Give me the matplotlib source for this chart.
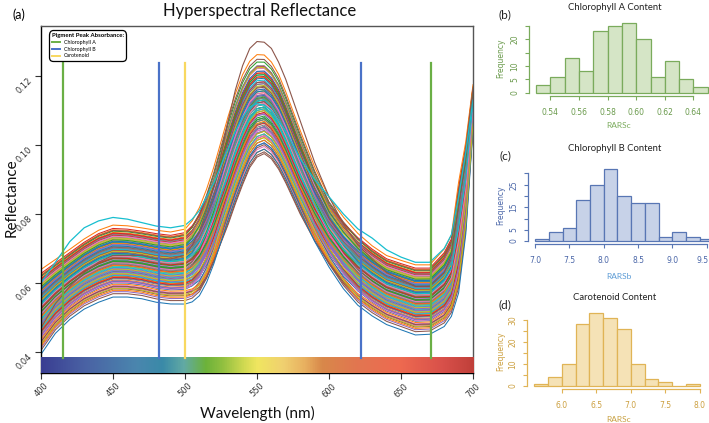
import numpy as np
import matplotlib
matplotlib.use("Agg")
import matplotlib.pyplot as plt
import matplotlib.transforms as mtransforms
from matplotlib.colors import LinearSegmentedColormap
from matplotlib.lines import Line2D

# ---------------- data ----------------
wavelengths = [400, 410, 420, 430, 440, 450, 460, 470, 480, 490, 500, 505, 510, 515, 520, 525,
               530, 535, 540, 545, 550, 555, 560, 565, 570, 575, 580, 590, 600, 610, 620, 630,
               640, 650, 660, 670, 680, 685, 690, 695, 700]
# lower / upper envelope of the main bundle of spectra
refl_low = [0.040, 0.046, 0.050, 0.053, 0.055, 0.0565, 0.0565, 0.056, 0.055, 0.0545, 0.0545, 0.0550,
            0.0565, 0.0600, 0.0650, 0.0710, 0.0770, 0.0830, 0.0885, 0.0935, 0.0965, 0.0975, 0.0960,
            0.0930, 0.0890, 0.0845, 0.0800, 0.0715, 0.0645, 0.0585, 0.0540, 0.0510, 0.0485, 0.0470,
            0.0455, 0.0457, 0.0480, 0.0510, 0.0580, 0.0750, 0.1050]
refl_high = [0.063, 0.066, 0.069, 0.072, 0.0745, 0.076, 0.0758, 0.0752, 0.0745, 0.074, 0.0748, 0.0770,
             0.0805, 0.0855, 0.0915, 0.0985, 0.1055, 0.1120, 0.1175, 0.1215, 0.1235, 0.1235, 0.1215,
             0.1180, 0.1130, 0.1075, 0.1020, 0.0920, 0.0835, 0.0780, 0.0735, 0.0700, 0.0672, 0.0658,
             0.0645, 0.0645, 0.0690, 0.0730, 0.0880, 0.1000, 0.1170]
# relative position of each sample within the bundle: visible/red region and green-peak region
sample_pos = [0.52, 0.31, 0.78, 0.45, 0.63, 0.12, 0.88, 0.57, 0.39, 0.70,
              0.25, 0.93, 0.48, 0.66, 0.05, 0.35, 0.81, 0.59, 0.42, 0.74,
              0.18, 0.97, 0.55, 0.28, 0.68, 0.09, 0.84, 0.47, 0.61, 0.33,
              0.76, 0.22, 0.51, 0.89, 0.40, 0.64, 0.14, 0.72, 0.58, 0.36,
              0.80, 0.27, 0.95, 0.44, 0.69, 0.02, 0.53, 0.86, 0.38, 0.62,
              0.20, 0.77, 0.49, 0.91, 0.30, 0.67, 0.11, 0.56, 0.83, 0.43,
              0.73, 0.16, 0.60, 0.99, 0.34, 0.50, 0.87, 0.24, 0.65, 0.41,
              0.79, 0.07, 0.54, 0.92, 0.37, 0.71, 0.19, 0.46, 0.85, 0.29,
              0.62, 1.04, 0.50, 0.26, 0.75, 0.13, 0.58, 0.90, 0.32, 0.68,
              -0.03, 0.44, 0.82, 0.55, 0.21, 0.96, 0.48, 0.70, 0.10, 0.60]
sample_pos_peak = [0.60, 0.22, 0.70, 0.55, 0.50, 0.25, 0.95, 0.45, 0.30, 0.82,
                   0.15, 0.85, 0.62, 0.58, 0.12, 0.48, 0.72, 0.66, 0.30, 0.88,
                   0.30, 0.90, 0.42, 0.20, 0.78, 0.02, 0.92, 0.55, 0.50, 0.40,
                   0.65, 0.35, 0.60, 0.80, 0.28, 0.75, 0.08, 0.62, 0.70, 0.45,
                   0.92, 0.18, 1.02, 0.52, 0.58, 0.10, 0.45, 0.78, 0.48, 0.55,
                   0.12, 0.68, 0.38, 0.97, 0.40, 0.74, 0.20, 0.64, 0.76, 0.35,
                   0.84, 0.05, 0.52, 0.90, 0.44, 0.58, 0.80, 0.32, 0.56, 0.50,
                   0.70, 0.15, 0.63, 0.86, 0.26, 0.80, 0.28, 0.38, 0.96, 0.22,
                   0.72, 1.10, 0.40, 0.34, 0.66, 0.00, 0.68, 0.98, 0.25, 0.60,
                   0.05, 0.36, 0.88, 0.46, 0.30, 1.05, 0.56, 0.62, 0.18, 0.52]
# individual outlying spectra
refl_high_peak = [0.047, 0.054, 0.059, 0.063, 0.066, 0.068, 0.068, 0.068, 0.067, 0.067, 0.068, 0.071,
                  0.075, 0.081, 0.088, 0.097, 0.107, 0.116, 0.123, 0.128, 0.1300, 0.1298, 0.128,
                  0.124, 0.119, 0.113, 0.107, 0.095, 0.085, 0.077, 0.071, 0.067, 0.063, 0.061,
                  0.059, 0.059, 0.063, 0.068, 0.082, 0.097, 0.114]
refl_flat_high = [0.060, 0.066, 0.072, 0.076, 0.078, 0.079, 0.0785, 0.0775, 0.0765, 0.076, 0.0767, 0.0785,
                  0.081, 0.085, 0.089, 0.094, 0.099, 0.104, 0.108, 0.111, 0.112, 0.1115, 0.110,
                  0.107, 0.104, 0.100, 0.096, 0.090, 0.085, 0.080, 0.0757, 0.073, 0.0696, 0.0675,
                  0.066, 0.066, 0.070, 0.074, 0.085, 0.098, 0.113]

pigment_names = ["Chlorophyll A", "Chlorophyll B", "Carotenoid"]
pigment_peaks = [[415, 671], [482, 622], [500]]

chla_edges = [0.53, 0.54, 0.55, 0.56, 0.57, 0.58, 0.59, 0.60, 0.61, 0.62, 0.63, 0.64, 0.65]
chla_counts = [3, 6, 13, 8, 23, 25, 26, 20, 6, 12, 5, 2]
chlb_edges = [7.0, 7.2, 7.4, 7.6, 7.8, 8.0, 8.2, 8.4, 8.6, 8.8, 9.0, 9.2, 9.4, 9.6]
chlb_counts = [1, 4, 6, 18, 25, 32, 20, 17, 17, 2, 4, 2, 1]
car_edges = [5.6, 5.8, 6.0, 6.2, 6.4, 6.6, 6.8, 7.0, 7.2, 7.4, 7.6, 7.8, 8.0]
car_counts = [1, 4, 10, 28, 33, 31, 26, 10, 3, 2, 0, 1]

# ---------------- figure ----------------
W, H = 709, 423
fig = plt.figure(figsize=(W / 100, H / 100), dpi=100)
MAINFONT = ["Lato", "DejaVu Sans"]


def fx(px):
    return px / W


def fy(py):
    return 1 - py / H


ax = fig.add_axes([fx(41), fy(373), fx(432), 347 / H])
wl = np.array(wavelengths, dtype=float)
lo = np.array(refl_low)
hi = np.array(refl_high)
# weight of the green-peak position along the spectrum (style of blending)
peak_weight = np.interp(wl, [500, 505, 515, 530, 580, 600, 625], [0, 0.1, 0.45, 1, 1, 0.45, 0])
tab = plt.rcParams['axes.prop_cycle'].by_key()['color']
for i, (t, tp) in enumerate(zip(sample_pos, sample_pos_peak)):
    pos = t * (1 - peak_weight) + tp * peak_weight
    ax.plot(wl, lo + pos * (hi - lo), color=tab[i % 10], lw=0.75)
ax.plot(wl, refl_high_peak, color=tab[5], lw=0.8)
ax.plot(wl, refl_flat_high, color=tab[9], lw=0.9)

ymin, ymax = 0.0339, 0.1345
ax.set_xlim(400, 700)
ax.set_ylim(ymin, ymax)

# spectrum colour bar
cb_colors = [(0.0, "#3a3e92"), (0.10, "#4a62a4"), (0.22, "#4a86ae"), (0.28, "#3a8aa8"),
             (0.33, "#62aaa4"), (0.38, "#6cb23a"), (0.42, "#92c040"), (0.47, "#d2da52"),
             (0.50, "#f0e660"), (0.56, "#f0d070"), (0.61, "#e8b060"), (0.65, "#d8884a"),
             (0.73, "#e27650"), (0.83, "#ee6a50"), (0.93, "#d8504a"), (1.0, "#c0403a")]
cmap = LinearSegmentedColormap.from_list("spec", cb_colors)
grad = np.linspace(0, 1, 512)[None, :]
ax.imshow(grad, cmap=cmap, extent=[400, 700, ymin, 0.0383], aspect="auto", zorder=3)

peak_colors = ["#6aaf45", "#4a72c8", "#f8d860"]
for name, peaks, c in zip(pigment_names, pigment_peaks, peak_colors):
    for p in peaks:
        ax.plot([p, p], [0.0383, 0.1238], color=c, lw=1.6, zorder=4)

handles = [Line2D([0], [0], color=c, lw=1.4) for c in peak_colors]
leg = ax.legend(handles, pigment_names, title="Pigment Peak Absorbance:", loc="upper left",
                bbox_to_anchor=(0.014, 0.993), prop={"family": MAINFONT, "size": 3.8},
                title_fontproperties={"weight": "bold", "size": 4.3, "family": MAINFONT},
                frameon=True, fancybox=True, edgecolor="black", framealpha=1, handlelength=1.6,
                borderpad=0.35, labelspacing=0.35, handletextpad=0.7)
leg._legend_box.align = "left"
leg.get_frame().set_linewidth(0.9)
leg.get_frame().set_boxstyle("round,pad=0.2,rounding_size=0.9")

ax.set_xticks([400, 450, 500, 550, 600, 650, 700])
ax.set_yticks([0.04, 0.06, 0.08, 0.10, 0.12])
ax.set_yticklabels(["0.04", "0.06", "0.08", "0.10", "0.12"])
ax.tick_params(axis="both", direction="out", length=4, width=0.8, labelsize=6, colors="#333333", pad=2)
for lab in ax.get_xticklabels():
    lab.set_rotation(45)
    lab.set_ha("center")
    lab.set_va("top")
for lab in ax.get_yticklabels():
    lab.set_rotation(45)
    lab.set_ha("right")
    lab.set_va("top")
ax.tick_params(axis="y", pad=1)
for s in ["left", "bottom"]:
    ax.spines[s].set_color("black")
    ax.spines[s].set_linewidth(1.0)
for s in ["right", "top"]:
    ax.spines[s].set_color("#555555")
    ax.spines[s].set_linewidth(1.0)

fig.text(fx(260), fy(11), "Hyperspectral Reflectance", ha="center", va="center", fontsize=12,
         family=MAINFONT, color="#111111")
fig.text(fx(19), fy(15), "(a)", ha="center", va="center", fontsize=9, family=MAINFONT)
fig.text(fx(12), fy(198), "Reflectance", ha="center", va="center", rotation=90, fontsize=11,
         family=MAINFONT, color="#111111")
fig.text(fx(257), fy(413), "Wavelength (nm)", ha="center", va="center", fontsize=11,
         family=MAINFONT, color="#111111")


# ---------------- histograms ----------------
def hist_panel(rect_px, edges, counts, xlim, ylim, xb, yb, xticks, xticklabels, ytick_all, ylabeled,
               fill, edge, tcol, lcol, xlabel, title, letter, title_y, xlabel_y, freq_y):
    l, b, r, t = rect_px
    a = fig.add_axes([fx(l), fy(b), (r - l) / W, (b - t) / H])
    e = np.array(edges)
    a.bar(e[:-1], counts, width=np.diff(e), align="edge", color=fill, edgecolor=edge, lw=0.9)
    a.set_xlim(*xlim)
    a.set_ylim(*ylim)
    for s in ["top", "right"]:
        a.spines[s].set_visible(False)
    a.spines["left"].set_bounds(*yb)
    a.spines["bottom"].set_bounds(*xb)
    for s in ["left", "bottom"]:
        a.spines[s].set_color(edge)
        a.spines[s].set_linewidth(0.9)
    a.set_xticks(xticks)
    a.set_xticklabels(xticklabels)
    a.set_yticks(ytick_all)
    a.set_yticklabels([str(v) if v in ylabeled else "" for v in ytick_all], rotation=90, va="center")
    a.tick_params(axis="both", length=3, width=0.8, color=edge, labelcolor=tcol, labelsize=5.5, pad=2)
    a.tick_params(axis="x", pad=6)
    a.tick_params(axis="y", pad=4)
    fig.text(fx(615), fy(title_y), title, ha="center", va="center", fontsize=6.8, family=MAINFONT,
             color="#222222")
    fig.text(fx(505), fy(title_y + 8), letter, ha="center", va="center", fontsize=8.5, family=MAINFONT,
             color="#222222")
    fig.text(fx(619), fy(xlabel_y), xlabel, ha="center", va="center", fontsize=6, family=MAINFONT, color=lcol)
    fig.text(fx(501), fy(freq_y), "Frequency", ha="center", va="center", rotation=90, fontsize=5.5,
             color=tcol)
    return a


hist_panel((529, 95.5, 714.7, 20.6), chla_edges, chla_counts, (0.5252, 0.6548), (-1.04, 27.04),
           (0.54, 0.64), (0, 25), [0.54, 0.56, 0.58, 0.60, 0.62, 0.64],
           ["0.54", "0.56", "0.58", "0.60", "0.62", "0.64"], [0, 5, 10, 15, 20, 25], [0, 5, 10, 20],
           "#d5e5c6", "#7aab5c", "#6a9a4c", "#7aab5c", "RARSc", "Chlorophyll A Content", "(b)",
           7, 126, 58)
axc = hist_panel((527.9, 243.9, 720.7, 166.1), chlb_edges, chlb_counts, (6.896, 9.704), (-1.28, 33.28),
                 (7.0, 9.5), (0, 30), [7.0, 7.5, 8.0, 8.5, 9.0, 9.5],
                 ["7.0", "7.5", "8.0", "8.5", "9.0", "9.5"], [0, 5, 10, 15, 20, 25, 30], [0, 5, 15, 25],
                 "#c7d2e8", "#5876b4", "#4a66a8", "#5b9bd5", "RARSb", "Chlorophyll B Content", "(c)",
                 148, 276, 205)
last = axc.get_xticklabels()[-1]
last.set_transform(last.get_transform() + mtransforms.ScaledTranslation(-4 / 100, 0, fig.dpi_scale_trans))
hist_panel((527.4, 388.9, 706.6, 310.2), car_edges, car_counts, (5.504, 8.096), (-1.32, 34.32),
           (6.0, 8.0), (0, 30), [6.0, 6.5, 7.0, 7.5, 8.0],
           ["6.0", "6.5", "7.0", "7.5", "8.0"], [0, 5, 10, 15, 20, 25, 30], [0, 10, 20, 30],
           "#f5e2b6", "#e0b456", "#cca040", "#c8a040", "RARSc", "Carotenoid Content", "(d)",
           297, 419, 351)

fig.savefig("out.png", dpi=100)
